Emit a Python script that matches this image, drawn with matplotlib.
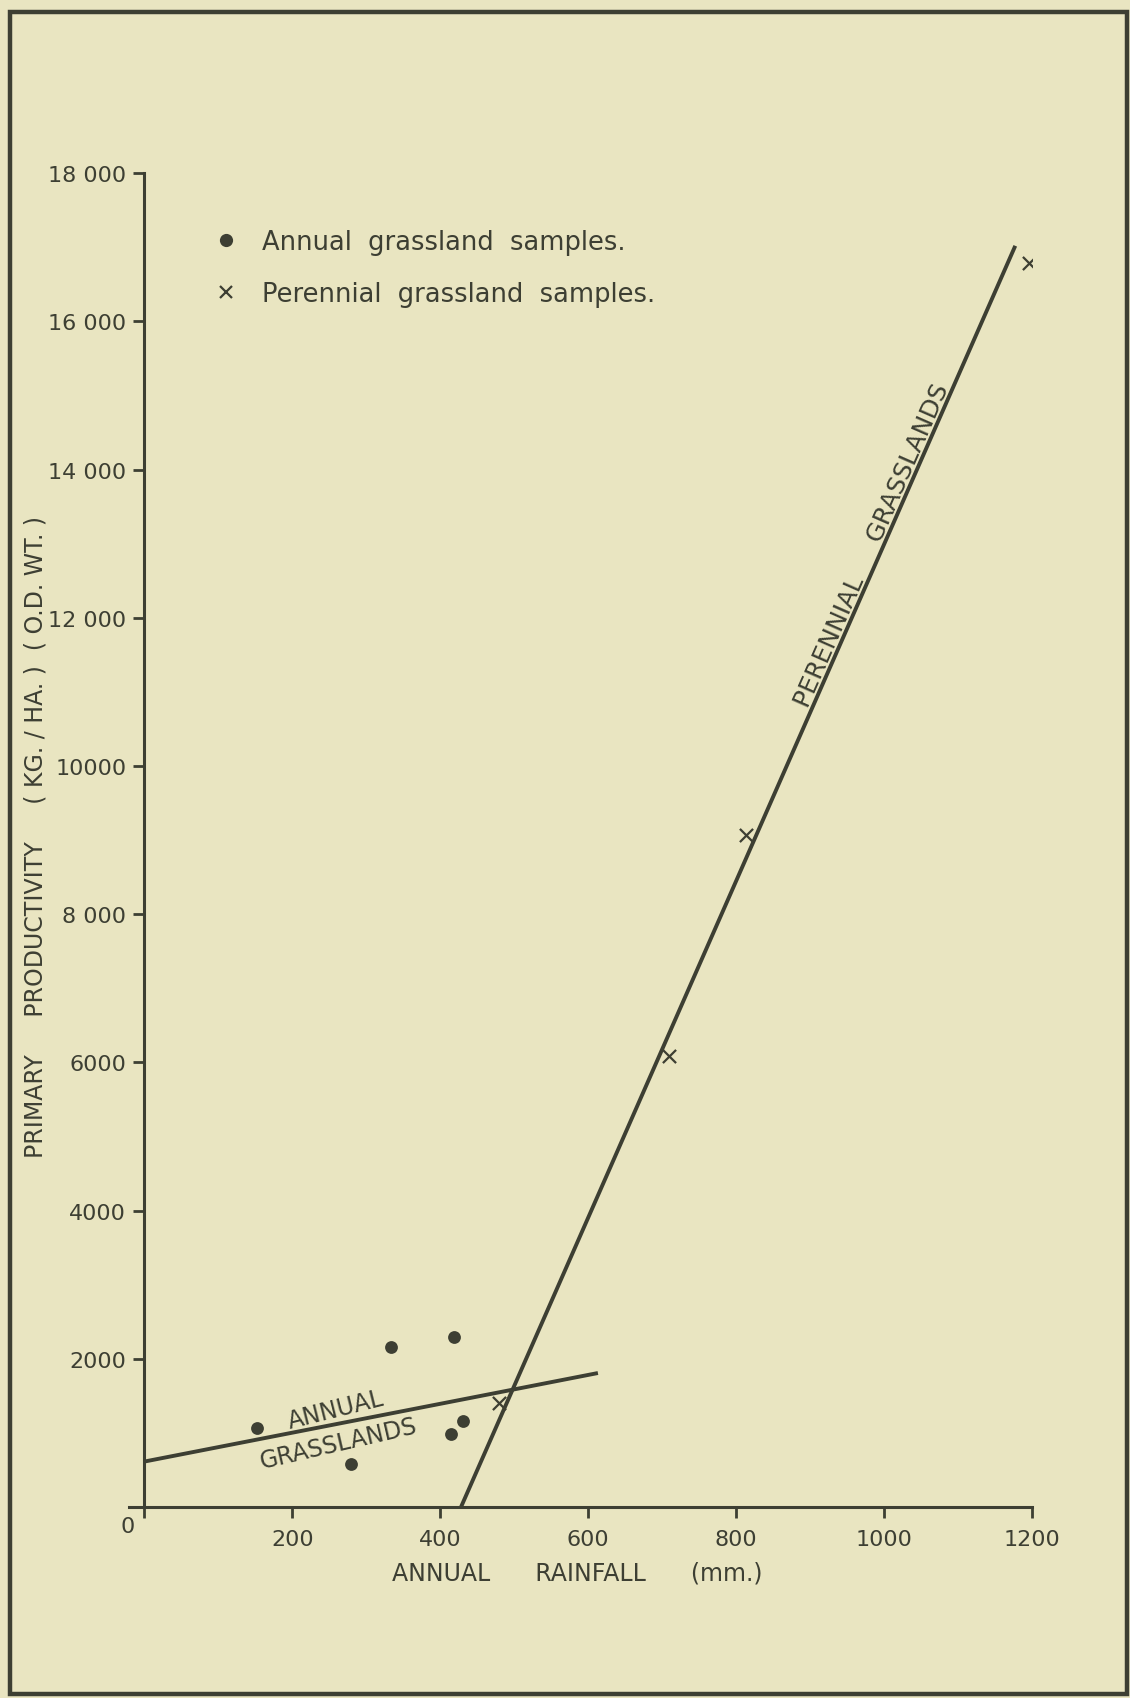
#!/usr/bin/env python3
"""
Primary productivity vs annual rainfall - annual and perennial grasslands
"""

import numpy as np
import matplotlib
matplotlib.use('Agg')
import matplotlib.pyplot as plt
from matplotlib.lines import Line2D
from matplotlib.patches import Rectangle

# Sample data
annual_x = [152, 279, 334, 418, 415, 431]
annual_y = [1062, 580, 2155, 2290, 985, 1165]

perennial_x = [480, 709, 813, 1195]
perennial_y = [1410, 6080, 9070, 16790]

# Hand-drawn trend lines (end points)
annual_fit_x = [0, 613]
annual_fit_y = [613, 1808]
perennial_fit_x = [428, 1177]
perennial_fit_y = [0, 17020]

x_ticks = [0, 200, 400, 600, 800, 1000, 1200]
x_tick_labels = ['', '200', '400', '600', '800', '1000', '1200']
y_ticks = [2000, 4000, 6000, 8000, 10000, 12000, 14000, 16000, 18000]
y_tick_labels = ['2000', '4000', '6000', '8 000', '10000',
                 '12 000', '14 000', '16 000', '18 000']

BG = '#E9E5C1'
INK = '#3D3F33'

fig = plt.figure(figsize=(11.30, 16.99), dpi=100, facecolor=BG)
ax = fig.add_axes([0.11460, 0.11242, 0.79894, 0.78505], facecolor=BG)

ax.set_xlim(-20, 1200)
ax.set_ylim(0, 18000)

# axes look: only the two hand-drawn axes
for side in ['top', 'right']:
    ax.spines[side].set_visible(False)
ax.spines['left'].set_position(('data', 0))
for side in ['left', 'bottom']:
    ax.spines[side].set_color(INK)
    ax.spines[side].set_linewidth(2.2)

ax.set_xticks(x_ticks)
ax.set_xticklabels(x_tick_labels)
ax.set_yticks(y_ticks)
ax.set_yticklabels(y_tick_labels)
ax.tick_params(axis='both', colors=INK, labelcolor=INK, width=2.0,
               length=8, labelsize=16, direction='out')
ax.tick_params(axis='x', pad=8)
ax.tick_params(axis='y', pad=5)

# shared origin label
ax.text(-22, -250, '0', fontsize=16, color=INK, ha='center', va='center')

# trend lines
ax.plot(annual_fit_x, annual_fit_y, color=INK, lw=2.8, solid_capstyle='butt')
ax.plot(perennial_fit_x, perennial_fit_y, color=INK, lw=2.8, solid_capstyle='butt')

# samples
ax.scatter(annual_x, annual_y, s=85, color=INK, zorder=3, linewidths=0)
ax.scatter(perennial_x, perennial_y, s=90, marker='x', color=INK,
           linewidths=1.6, zorder=3)


def screen_angle(xs, ys):
    p = ax.transData.transform(np.column_stack([xs, ys]))
    return np.degrees(np.arctan2(p[1, 1] - p[0, 1], p[1, 0] - p[0, 0]))


ann_ang = screen_angle(annual_fit_x, annual_fit_y)
per_ang = screen_angle(perennial_fit_x, perennial_fit_y)

ax.text(259, 1320, 'ANNUAL', fontsize=17, color=INK, ha='center', va='center',
        rotation=ann_ang + 3, rotation_mode='anchor')
ax.text(262, 870, 'GRASSLANDS', fontsize=17, color=INK, ha='center', va='center',
        rotation=ann_ang + 2, rotation_mode='anchor')
ax.text(983, 12990, 'PERENNIAL     GRASSLANDS', fontsize=18, color=INK,
        ha='center', va='center', rotation=per_ang, rotation_mode='anchor')

# axis labels
ax.set_xlabel('ANNUAL      RAINFALL      (mm.)', fontsize=17, color=INK)
ax.xaxis.set_label_coords(0.4957, -0.040)
ax.set_ylabel('PRIMARY     PRODUCTIVITY     ( KG. / HA. )  ( O.D. WT. )',
              fontsize=17, color=INK, va='center')
ax.yaxis.set_label_coords(-0.1036, 0.503)

# legend
handles = [
    Line2D([], [], linestyle='none', marker='o', markersize=9.5,
           color=INK, markeredgewidth=0),
    Line2D([], [], linestyle='none', marker='x', markersize=9,
           color=INK, markeredgewidth=1.6),
]
leg = ax.legend(handles, ['Annual  grassland  samples.',
                          'Perennial  grassland  samples.'],
                loc='upper left', bbox_to_anchor=(0.0925, 0.958),
                frameon=False, fontsize=18.5, handlelength=1.0,
                handletextpad=0.9, labelspacing=1.0, borderpad=0,
                borderaxespad=0, numpoints=1)
for t in leg.get_texts():
    t.set_color(INK)

# border of the plate
fig.patches.append(Rectangle((0.0088, 0.0024), 0.9885, 0.9899,
                             transform=fig.transFigure, fill=False,
                             edgecolor=INK, linewidth=3.2))

fig.savefig('out.png', dpi=100, facecolor=BG)
